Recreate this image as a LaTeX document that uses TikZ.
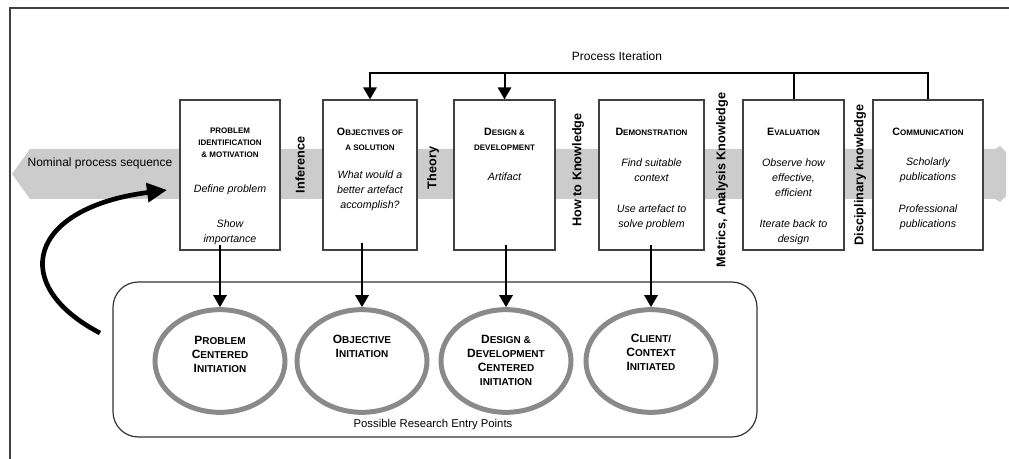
\documentclass[tikz,border=0pt]{standalone}
\usepackage{fontspec}
\setmainfont{Liberation Sans}
\usetikzlibrary{arrows.meta,shapes.geometric}
\definecolor{bandgray}{HTML}{CCCCCC}
\definecolor{ringgray}{HTML}{8A8A8A}
\newcommand\HB[1]{{\fontsize{8}{11.25}\selectfont #1}}
\newcommand\HS[1]{{\fontsize{6}{11.25}\selectfont #1}}
\newcommand\EB[1]{{\fontsize{9}{10.5}\selectfont #1}}
\newcommand\ES[1]{{\fontsize{7.5}{10.5}\selectfont #1}}
\tikzset{
  stagebox/.style={draw=black!75, line width=0.9pt, fill=white, minimum height=112.5pt, inner sep=0pt},
  headtxt/.style={font=\bfseries\fontsize{8}{11.25}\selectfont, align=center, inner sep=0pt},
  bodytxt/.style={font=\itshape\fontsize{8}{11.25}\selectfont, align=center, inner sep=0pt},
  sidelabel/.style={font=\bfseries\fontsize{9.5}{11}\selectfont, rotate=90, inner sep=0pt},
  ring/.style={ellipse, draw=ringgray, line width=3.75pt, minimum width=97.5pt, minimum height=77pt, inner sep=0pt},
  ringtxt/.style={font=\bfseries\fontsize{9}{10.5}\selectfont, align=center, inner sep=0pt},
  arr/.style={line width=1.5pt, -{Triangle[length=9pt,width=10pt]}},
  iterline/.style={line width=1.5pt},
  curvearr/.style={line width=3.5pt, -{Triangle[length=15pt,width=14pt]}},
}
\begin{document}
\begin{tikzpicture}[x=0.75pt,y=-0.75pt]
\useasboundingbox (0,0) rectangle (1009,459);
% outer frame
\draw[black!75, line width=1pt] (10,459) -- (10,8) -- (1009,8);
% grey band
\fill[bandgray] (30,149) -- (995,149) -- (1000,146) -- (1006,152) -- (1006,196) -- (1000,202) -- (995,199) -- (30,199) -- (12,174) -- cycle;
\node[font=\fontsize{9}{11}\selectfont, inner sep=0pt] (nom) at (100,163) {Nominal process sequence};
% stage boxes
\node[stagebox, minimum width=75pt] (b1) at (230,175) {};
\node[stagebox, minimum width=70.5pt] (b2) at (370,175) {};
\node[stagebox, minimum width=75.75pt] (b3) at (504.5,175) {};
\node[stagebox, minimum width=78.75pt] (b4) at (651.5,175) {};
\node[stagebox, minimum width=75.75pt] (b5) at (793.5,175) {};
\node[stagebox, minimum width=82.5pt] (b6) at (928,175) {};
% box texts
\node[headtxt, font=\bfseries\fontsize{6}{9}\selectfont] (t1h) at (230,143) {PROBLEM\\IDENTIFICATION\\\& MOTIVATION};
\node[bodytxt] (t1a) at (230,190) {Define problem};
\node[bodytxt] (t1b) at (230,232.5) {Show\\importance};
\node[headtxt] (t2h) at (370,139.5) {\HB{O}\HS{BJECTIVES OF}\\\HS{A SOLUTION}};
\node[bodytxt] (t2a) at (370,191) {What would a\\better artefact\\accomplish?};
\node[headtxt] (t3h) at (504.5,139.5) {\HB{D}\HS{ESIGN \&}\\\HS{DEVELOPMENT}};
\node[bodytxt] (t3a) at (504.5,177) {Artifact};
\node[headtxt] (t4h) at (651.5,132) {\HB{D}\HS{EMONSTRATION}};
\node[bodytxt] (t4a) at (651.5,170.5) {Find suitable\\context};
\node[bodytxt] (t4b) at (651.5,217) {Use artefact to\\solve problem};
\node[headtxt] (t5h) at (793.5,132) {\HB{E}\HS{VALUATION}};
\node[bodytxt] (t5a) at (793.5,177.5) {Observe how\\effective,\\efficient};
\node[bodytxt] (t5b) at (793.5,232.5) {Iterate back to\\design};
\node[headtxt] (t6h) at (928,132) {\HB{C}\HS{OMMUNICATION}};
\node[bodytxt] (t6a) at (928,170.5) {Scholarly\\publications};
\node[bodytxt] (t6b) at (928,217) {Professional\\publications};
% side labels
\node[sidelabel] (l1) at (300,165) {Inference};
\node[sidelabel] (l2) at (433,168) {Theory};
\node[sidelabel] (l3) at (578,170) {How to Knowledge};
\node[sidelabel] (l4) at (722,180) {Metrics, Analysis Knowledge};
\node[sidelabel] (l5) at (860,175) {Disciplinary knowledge};
% process iteration
\coordinate (itop) at (0,73);
\node[font=\fontsize{9}{11}\selectfont, inner sep=0pt] (pi) at (617,56) {Process Iteration};
\draw[iterline, -{Triangle[length=9pt,width=10pt]}] (b6.north) -- (b6.north |- itop) -- (b2.north |- itop) -- (b2.north);
\draw[arr] (b3.north |- itop) -- (b3.north);
\draw[iterline] (b5.north) -- (b5.north |- itop);
% entry points container
\node[draw=black!80, line width=0.9pt, rounded corners=19pt, minimum width=483pt, minimum height=116.25pt] (entry) at (435,359.5) {};
\node[font=\fontsize{8.5}{10}\selectfont, inner sep=0pt] (entrylab) at (433,425) {Possible Research Entry Points};
% rings
\node[ring] (e1) at (220,361) {};
\node[ring] (e2) at (362,361) {};
\node[ring] (e3) at (506,361) {};
\node[ring] (e4) at (651,361) {};
\node[ringtxt] (r1) at (220,354) {\EB{P}\ES{ROBLEM}\\\EB{C}\ES{ENTERED}\\\EB{I}\ES{NITIATION}};
\node[ringtxt] (r2) at (362,346) {\EB{O}\ES{BJECTIVE}\\\EB{I}\ES{NITIATION}};
\node[ringtxt] (r3) at (506,360) {\EB{D}\ES{ESIGN \&}\\\EB{D}\ES{EVELOPMENT}\\\EB{C}\ES{ENTERED}\\\ES{INITIATION}};
\node[ringtxt] (r4) at (651,352) {\EB{C}\ES{LIENT/}\\\EB{C}\ES{ONTEXT}\\\EB{I}\ES{NITIATED}};
% arrows to rings
\draw[arr] ([yshift=4pt]b1.south -| e1.north) -- (e1.north);
\draw[arr] ([yshift=6pt]b2.south -| e2.north) -- (e2.north);
\draw[arr] ([yshift=4pt]b3.south -| e3.north) -- (e3.north);
\draw[arr] ([yshift=4pt]b4.south -| e4.north) -- (e4.north);
% big curved arrow
\coordinate (cs) at (100,333);
\coordinate (ct) at (167,190);
\draw[curvearr] (cs) .. controls (8,285) and (28,208) .. (ct);
\end{tikzpicture}
\end{document}
